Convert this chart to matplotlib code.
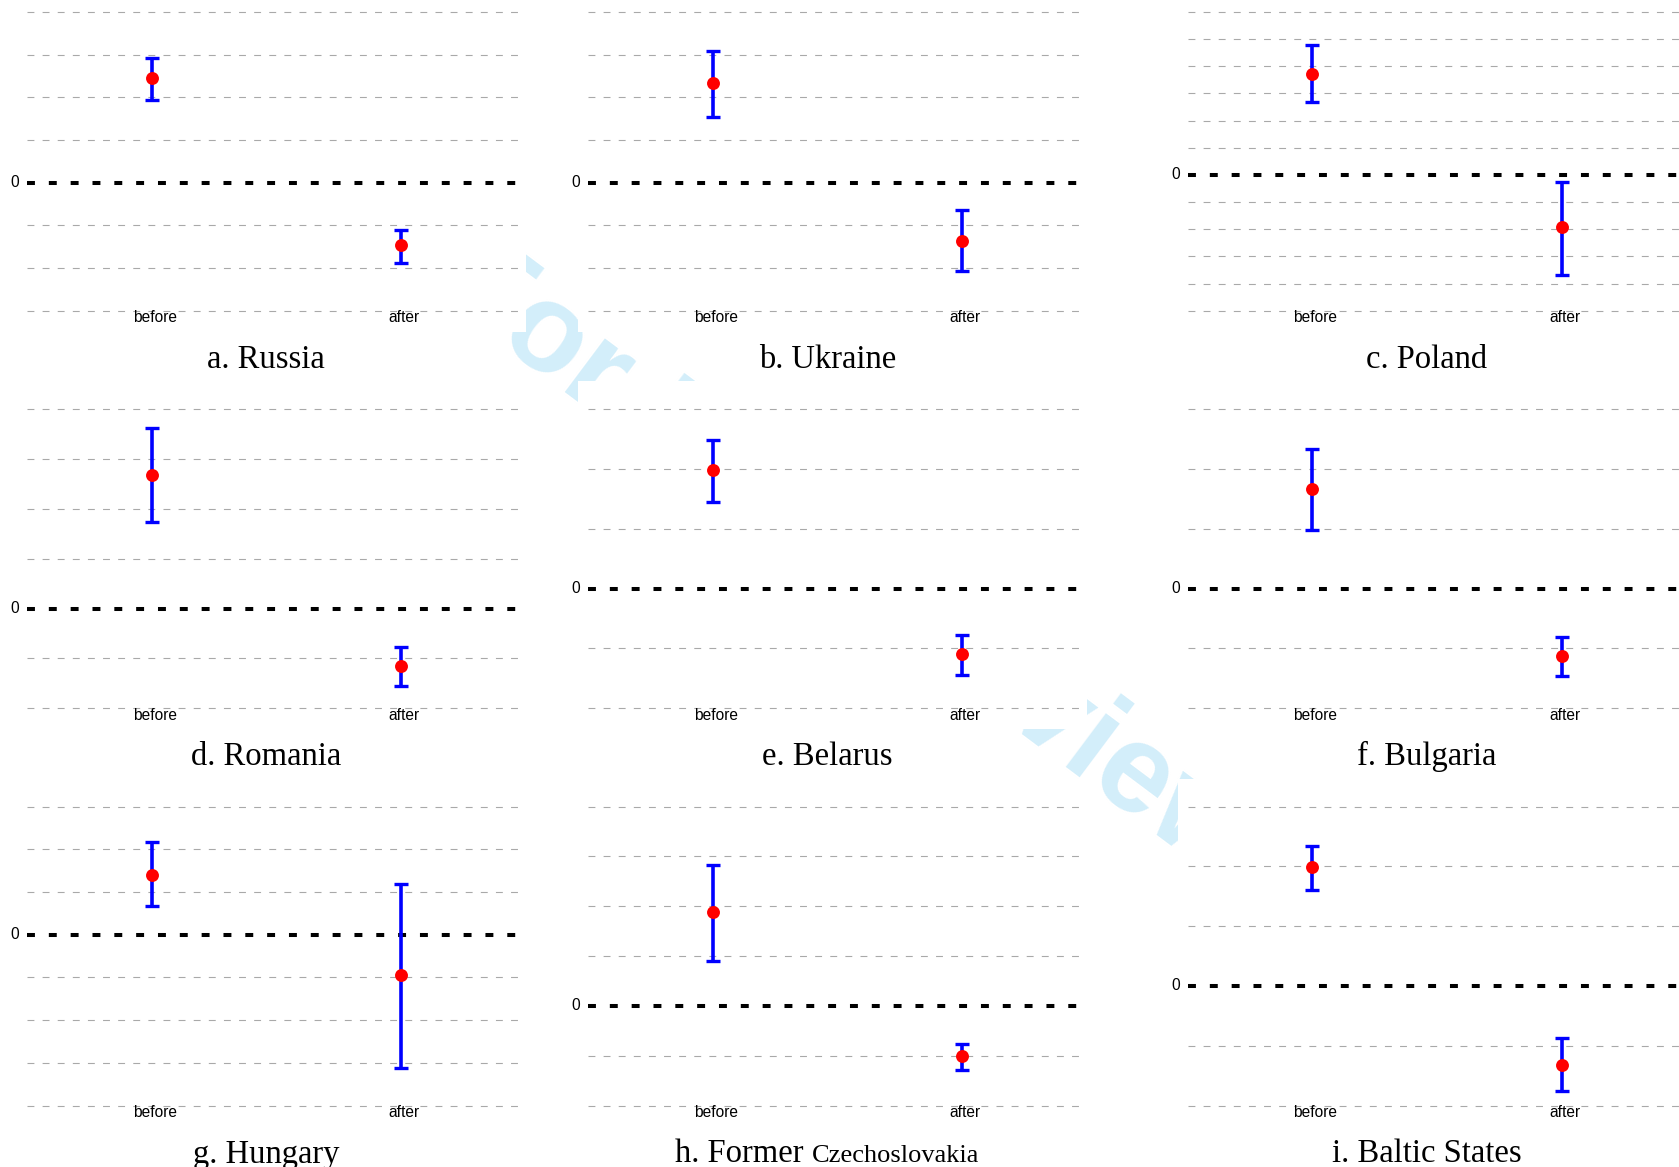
import numpy as np
import matplotlib
matplotlib.use("Agg")
import matplotlib.pyplot as plt
from matplotlib import font_manager
from matplotlib.patches import Rectangle

# ── Dados (efeito estimado antes/depois, IC) ──────────────────────────────────
TITLES = ["a. Russia", "b. Ukraine", "c. Poland",
          "d. Romania", "e. Belarus", "f. Bulgaria",
          "g. Hungary", "h. Former", "i. Baltic States"]
TITLE_EXTRA = {7: "Czechoslovakia"}   # parte do título em fonte menor
PERIODS = ["before", "after"]

BEFORE_MEAN = [0.245, 0.233, 0.186, 0.268, 0.199, 0.166, 0.140, 0.189, 0.198]
BEFORE_LO = [0.193, 0.154, 0.134, 0.173, 0.145, 0.098, 0.066, 0.090, 0.160]
BEFORE_HI = [0.292, 0.309, 0.239, 0.362, 0.248, 0.234, 0.216, 0.282, 0.234]
AFTER_MEAN = [-0.147, -0.136, -0.095, -0.116, -0.109, -0.113, -0.094, -0.100, -0.132]
AFTER_LO = [-0.188, -0.207, -0.1835, -0.156, -0.144, -0.146, -0.312, -0.128, -0.175]
AFTER_HI = [-0.110, -0.063, -0.0125, -0.078, -0.078, -0.081, 0.119, -0.077, -0.087]

Y_MIN = [-0.3, -0.3, -0.25, -0.2, -0.2, -0.2, -0.4, -0.2, -0.2]
Y_MAX = [0.4, 0.4, 0.30, 0.4, 0.3, 0.3, 0.3, 0.4, 0.3]
Y_STEP = [0.1, 0.1, 0.05, 0.1, 0.1, 0.1, 0.1, 0.1, 0.1]

WATERMARK = "For Peer Review Only"

# ── Layout (pixels da figura 1679x1167) ───────────────────────────────────────
W, H = 1679, 1167
COL_LEFT = [26.8, 587.9, 1187.5]
ROW_TOP = [11.8, 409.2, 806.5]
PANEL_W, PANEL_H = 499, 299
PAD = 3
PX = 0.72  # 1 px em pontos (dpi 100)

GRID_COLOR = "#a9a9a9"
WM_COLOR = "#d3eefa"

names = {f.name for f in font_manager.fontManager.ttflist}
if "Liberation Sans Narrow" in names:
    LABEL_FONT, LABEL_SIZE = "Liberation Sans Narrow", 12.5
else:
    LABEL_FONT, LABEL_SIZE = "Liberation Sans", 11.2
TITLE_FONT = "Liberation Serif"


def fig_rect(left, top, w, h):
    return [left / W, 1 - (top + h) / H, w / W, h / H]


fig = plt.figure(figsize=(W / 100, H / 100), dpi=100)

# marca d'água atrás dos painéis
fig.text(433.5 / W, 1 - 293.9 / H, WATERMARK, rotation=-36.8, rotation_mode="anchor",
         ha="left", va="baseline", fontsize=91, fontweight="bold",
         family="Liberation Sans", color=WM_COLOR, zorder=-3)

title_pairs = []
for i in range(9):
    r, c = divmod(i, 3)
    left, top = COL_LEFT[c], ROW_TOP[r]

    # fundo branco do painel (esconde a marca d'água)
    fig.add_artist(Rectangle(((left - 10) / W, 1 - (top + PANEL_H + 21) / H),
                             (PANEL_W + 10.5) / W, (PANEL_H + 49) / H,
                             transform=fig.transFigure, facecolor="white",
                             edgecolor="none", zorder=-2))

    ax = fig.add_axes(fig_rect(left, top - PAD, PANEL_W, PANEL_H + 2 * PAD))
    ax.set_facecolor("none")
    span = Y_MAX[i] - Y_MIN[i]
    pad_d = span * PAD / PANEL_H
    ax.set_ylim(Y_MIN[i] - pad_d, Y_MAX[i] + pad_d)
    ax.set_xlim(0.5, 2.5)
    ax.axis("off")

    n = int(round(span / Y_STEP[i]))
    for t in np.linspace(Y_MIN[i], Y_MAX[i], n + 1):
        if abs(t) < 1e-9:
            continue
        ax.axhline(t, color=GRID_COLOR, lw=0.8, linestyle=(0, (6.2, 7.4)), zorder=1)
    ax.axhline(0, color="black", lw=2.9, linestyle=(0, (1.97, 3.45)), zorder=2)

    means = [BEFORE_MEAN[i], AFTER_MEAN[i]]
    los = [BEFORE_LO[i], AFTER_LO[i]]
    his = [BEFORE_HI[i], AFTER_HI[i]]
    xs = [1, 2]
    yerr = [[m - lo for m, lo in zip(means, los)], [hi - m for m, hi in zip(means, his)]]
    ax.errorbar(xs, means, yerr=yerr, fmt="none", ecolor="#0000ff",
                elinewidth=2.6, capsize=4.7, capthick=2.4, zorder=3)
    ax.plot(xs, means, "o", color="#ff0000", ms=9.3, mec="none", zorder=4)

    for x, lab in zip(xs, PERIODS):
        ax.annotate(lab, xy=(x, Y_MIN[i]), xytext=(3 * PX, -7 * PX),
                    textcoords="offset points", ha="center", va="center",
                    family=LABEL_FONT, fontsize=LABEL_SIZE, annotation_clip=False)
    ax.annotate("0", xy=(0.5, 0), xytext=(-12 * PX, 0), textcoords="offset points",
                ha="center", va="center", family=LABEL_FONT, fontsize=LABEL_SIZE,
                annotation_clip=False)

    cx = (left + PANEL_W / 2 - 10) / W
    ty = 1 - (top + PANEL_H + 57) / H
    t1 = fig.text(cx, ty, TITLES[i], ha="center", va="baseline",
                  family=TITLE_FONT, fontsize=23.5)
    if i in TITLE_EXTRA:
        t2 = fig.text(cx, ty, TITLE_EXTRA[i], ha="left", va="baseline",
                      family=TITLE_FONT, fontsize=19)
        title_pairs.append((t1, t2, cx))

# título composto (Former + Czechoslovakia menor) centrado
fig.canvas.draw()
rend = fig.canvas.get_renderer()
for t1, t2, cx in title_pairs:
    w1 = t1.get_window_extent(rend).width
    w2 = t2.get_window_extent(rend).width
    gap = 8
    x0 = cx * W - (w1 + gap + w2) / 2
    t1.set_ha("left")
    t1.set_x(x0 / W)
    t2.set_x((x0 + w1 + gap) / W)

fig.savefig("out.png", dpi=100)
